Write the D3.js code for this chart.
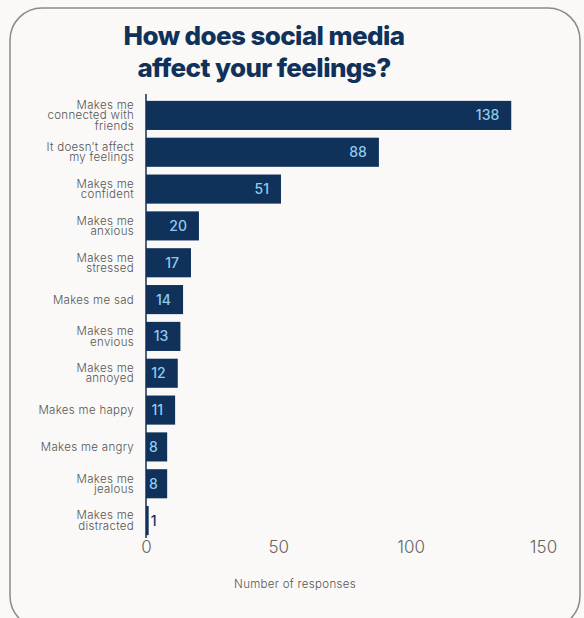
<!DOCTYPE html>
<html>
<head>
<meta charset="utf-8">
<script src="https://cdn.jsdelivr.net/npm/d3@7"></script>
<style>
  html, body { margin: 0; padding: 0; background: #faf9f7; }
  svg { display: block; }
</style>
</head>
<body>
<svg id="chart" width="584" height="618"></svg>
<script>
// Survey answers and response counts
const categories = [
  "Makes me connected with friends",
  "It doesn’t affect my feelings",
  "Makes me confident",
  "Makes me anxious",
  "Makes me stressed",
  "Makes me sad",
  "Makes me envious",
  "Makes me annoyed",
  "Makes me happy",
  "Makes me angry",
  "Makes me jealous",
  "Makes me distracted"
];
// How each category label is broken into lines
const labelLines = [
  ["Makes me", "connected with", "friends"],
  ["It doesn’t affect", "my feelings"],
  ["Makes me", "confident"],
  ["Makes me", "anxious"],
  ["Makes me", "stressed"],
  ["Makes me sad"],
  ["Makes me", "envious"],
  ["Makes me", "annoyed"],
  ["Makes me happy"],
  ["Makes me angry"],
  ["Makes me", "jealous"],
  ["Makes me", "distracted"]
];
const responses = [138, 88, 51, 20, 17, 14, 13, 12, 11, 8, 8, 1];
const xTicks = [0, 50, 100, 150];
const titleLines = ["How does social media", "affect your feelings?"];
const xTitle = "Number of responses";

const navy = "#10315a";
const valueBlue = "#8fcbef";
const svg = d3.select("#chart");

// Card
svg.append("rect")
  .attr("x", 10).attr("y", 8)
  .attr("width", 570).attr("height", 620)
  .attr("rx", 32).attr("ry", 32)
  .attr("fill", "#faf9f7")
  .attr("stroke", "#8a8a8a")
  .attr("stroke-width", 1.5);

// Title
svg.append("text")
  .attr("x", 264).attr("y", 45)
  .attr("text-anchor", "middle")
  .attr("font-family", "Inter, 'Open Sans', sans-serif")
  .attr("font-weight", 800)
  .attr("font-size", 26)
  .attr("letter-spacing", -0.6)
  .attr("fill", navy)
  .selectAll("tspan")
  .data(titleLines)
  .join("tspan")
  .attr("x", 264)
  .attr("dy", (d, i) => i === 0 ? 0 : 32)
  .text(d => d);

const x = d3.scaleLinear().domain([0, 150]).range([146, 543]);
const y = d3.scaleBand()
  .domain(categories)
  .range([97, 539])
  .paddingInner(0.21)
  .paddingOuter(0.105);

const data = categories.map((c, i) => ({ cat: c, value: responses[i], lines: labelLines[i] }));

// Bars
svg.append("g")
  .selectAll("rect")
  .data(data)
  .join("rect")
  .attr("x", x(0))
  .attr("y", d => y(d.cat))
  .attr("width", d => Math.max(0, x(d.value) - x(0)))
  .attr("height", y.bandwidth())
  .attr("fill", navy);

// Vertical baseline
svg.append("line")
  .attr("x1", x(0)).attr("x2", x(0))
  .attr("y1", 94).attr("y2", 538)
  .attr("stroke", navy)
  .attr("stroke-width", 1.5);

// Category labels
const labelG = svg.append("g")
  .attr("font-family", "Inter, 'Open Sans', sans-serif")
  .attr("font-weight", 300)
  .attr("font-size", 11.5)
  .attr("letter-spacing", 0.3)
  .attr("fill", "#555")
  .attr("text-anchor", "end");

data.forEach(d => {
  const cy = y(d.cat) + y.bandwidth() / 2;
  const n = d.lines.length;
  const t = labelG.append("text");
  d.lines.forEach((line, i) => {
    t.append("tspan")
      .attr("x", 134)
      .attr("y", cy + 4 + (i - (n - 1) / 2) * 10.4)
      .text(line);
  });
});

// Value labels
const valG = svg.append("g")
  .attr("font-family", "Inter, 'Open Sans', sans-serif")
  .attr("font-weight", 500)
  .attr("font-size", 14);

data.forEach(d => {
  const cy = y(d.cat) + y.bandwidth() / 2;
  const end = x(d.value);
  const t = valG.append("text")
    .attr("y", cy + 5)
    .text(d.value);
  const w = t.node().getComputedTextLength();
  if (end - x(0) < w + 4) {
    // too narrow: sit just beyond the bar
    t.attr("x", end + 2).attr("text-anchor", "start").attr("fill", navy);
  } else {
    const right = Math.max(end - 12, x(0) + 3 + w);
    t.attr("x", right).attr("text-anchor", "end").attr("fill", valueBlue);
  }
});

// X axis tick labels
const xAxis = d3.axisBottom(x).tickValues(xTicks).tickSize(0).tickPadding(0);
const xg = svg.append("g")
  .attr("transform", "translate(0,541)")
  .call(xAxis);
xg.select(".domain").remove();
xg.selectAll("text")
  .attr("font-family", "Inter, 'Open Sans', sans-serif")
  .attr("font-weight", 300)
  .attr("font-size", 17)
  .attr("fill", "#666")
  .attr("dy", "0.71em");

// X axis title
svg.append("text")
  .attr("x", 295).attr("y", 588)
  .attr("text-anchor", "middle")
  .attr("font-family", "Inter, 'Open Sans', sans-serif")
  .attr("font-weight", 300)
  .attr("font-size", 11.5)
  .attr("letter-spacing", 0.3)
  .attr("fill", "#555")
  .text(xTitle);
</script>
</body>
</html>
